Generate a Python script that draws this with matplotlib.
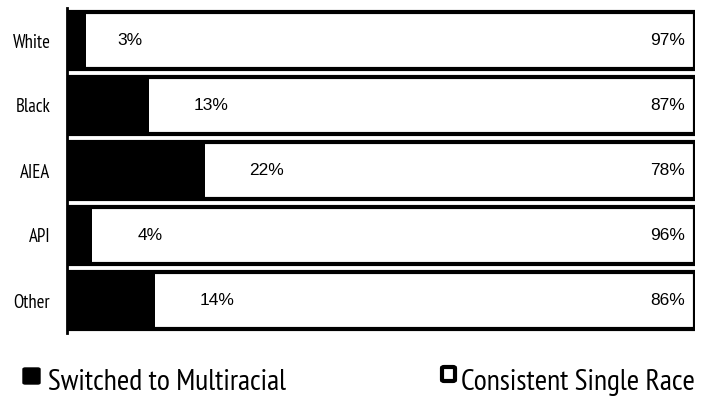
import matplotlib
matplotlib.use("Agg")
import matplotlib.pyplot as plt
from matplotlib.patches import FancyBboxPatch

categories = ["White", "Black", "AIEA", "API", "Other"]
switched = [3, 13, 22, 4, 14]
consistent = [97, 87, 78, 96, 86]
legend_labels = ["Switched to Multiracial", "Consistent Single Race"]

label_offset = [7, 10, 9.7, 9.2, 9.9]   # inner label offset past black segment (data units)

NARROW = ["PT Sans Narrow", "Archivo Narrow", "Liberation Sans"]
REG = ["Liberation Sans", "DejaVu Sans"]

fig = plt.figure(figsize=(7.17, 3.97), dpi=100)
ax = fig.add_axes([67/717, 1-333/397, (695-67)/717, 325/397])

y = list(range(len(categories)))
bh = 0.87
outline = ax.barh(y, [s + c for s, c in zip(switched, consistent)], height=bh,
                  color="white", edgecolor="black", linewidth=3, zorder=2)
for p in outline:
    p.set_joinstyle("round")
ax.barh(y, switched, height=bh, color="black", edgecolor="none", zorder=3)

for yi, s, c, off in zip(y, switched, consistent, label_offset):
    ax.text(s + off, yi, f"{s}%", ha="center", va="center", fontsize=12.5,
            family=REG, zorder=4)
    ax.text(s + c - 1.6, yi, f"{c}%", ha="right", va="center", fontsize=12.5,
            family=REG, zorder=4)

ax.set_xlim(0, 100)
ax.set_ylim(len(categories) - 0.5, -0.5)
ax.set_yticks(y)
ax.set_yticklabels(categories, family=NARROW, fontsize=13.5, fontweight="normal")
ax.tick_params(axis="y", length=0, pad=12)
ax.set_xticks([])
for s in ["top", "right", "bottom"]:
    ax.spines[s].set_visible(False)
ax.spines["left"].set_linewidth(2)
ax.spines["left"].set_zorder(5)

# legend
W, H = 717, 397
sq1 = FancyBboxPatch((23/W, 1-384/H), 17/W, 16/H, boxstyle="round,pad=0,rounding_size=0.003",
                     transform=fig.transFigure, facecolor="black", edgecolor="black", linewidth=1)
fig.patches.append(sq1)
fig.text(48/W, 1-390/H, legend_labels[0], family=NARROW, fontsize=21.5, va="baseline", ha="left")
sq2 = FancyBboxPatch((442/W, 1-381/H), 13/W, 14/H, boxstyle="round,pad=0,rounding_size=0.003",
                     transform=fig.transFigure, facecolor="white", edgecolor="black", linewidth=3)
fig.patches.append(sq2)
fig.text(461/W, 1-390/H, legend_labels[1], family=NARROW, fontsize=21.5, va="baseline", ha="left")

fig.savefig("out.png", dpi=100)
